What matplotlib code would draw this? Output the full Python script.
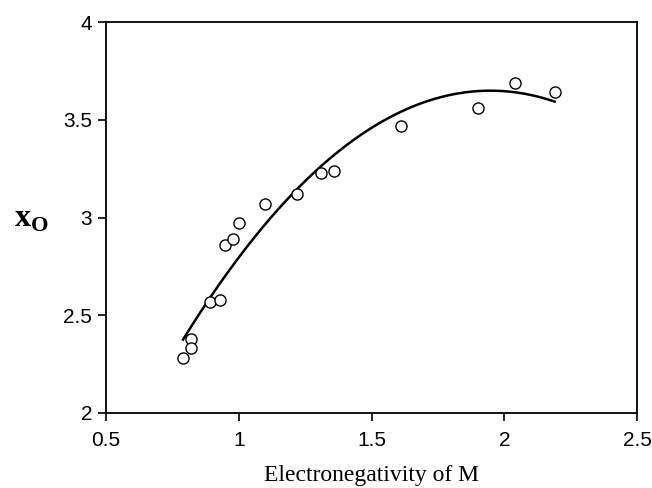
import matplotlib
matplotlib.use('Agg')
import matplotlib.pyplot as plt
import numpy as np

# 電気陰性度と x_O の実測値
electroneg = [0.79, 0.82, 0.82, 0.89, 0.93, 0.95, 0.98, 1.00, 1.10, 1.22,
              1.31, 1.36, 1.61, 1.90, 2.04, 2.19]
x_o = [2.28, 2.38, 2.33, 2.57, 2.58, 2.86, 2.89, 2.97, 3.07, 3.12,
       3.23, 3.24, 3.47, 3.56, 3.69, 3.64]

plt.rcParams['mathtext.fontset'] = 'custom'
plt.rcParams['mathtext.bf'] = 'Liberation Serif:bold'
plt.rcParams['mathtext.rm'] = 'Liberation Serif'

fig = plt.figure(figsize=(6.52, 4.88), dpi=100)
ax = fig.add_axes([106 / 652, 1 - 413 / 488, (637 - 106) / 652, (413 - 22) / 488])

# 2次の近似曲線
coef = np.polyfit(electroneg, x_o, 2)
xs = np.linspace(min(electroneg), max(electroneg), 200)
ax.plot(xs, np.polyval(coef, xs), color='black', lw=1.8)

ax.plot(electroneg, x_o, 'o', mfc='white', mec='black', ms=8, mew=1.0)

ax.set_xlim(0.5, 2.5)
ax.set_ylim(2, 4)
ax.set_xticks([0.5, 1, 1.5, 2, 2.5])
ax.set_xticklabels(['0.5', '1', '1.5', '2', '2.5'])
ax.set_yticks([2, 2.5, 3, 3.5, 4])
ax.set_yticklabels(['2', '2.5', '3', '3.5', '4'])
ax.tick_params(direction='out', length=6, width=1.2, labelsize=15)
ax.tick_params(axis='x', pad=7)
ax.tick_params(axis='y', pad=4)
for lab in ax.get_xticklabels() + ax.get_yticklabels():
    lab.set_family('Liberation Sans')
for s in ax.spines.values():
    s.set_linewidth(1.3)

fig.text(371 / 652, 1 - 476 / 488, 'Electronegativity of M', family='Liberation Serif',
         fontsize=17, ha='center', va='center')
fig.text(14 / 652, 1 - 218 / 488, r'$\mathbf{x}_{\mathbf{O}}$', fontsize=23, va='center', ha='left')

fig.savefig('out.png', dpi=100)
